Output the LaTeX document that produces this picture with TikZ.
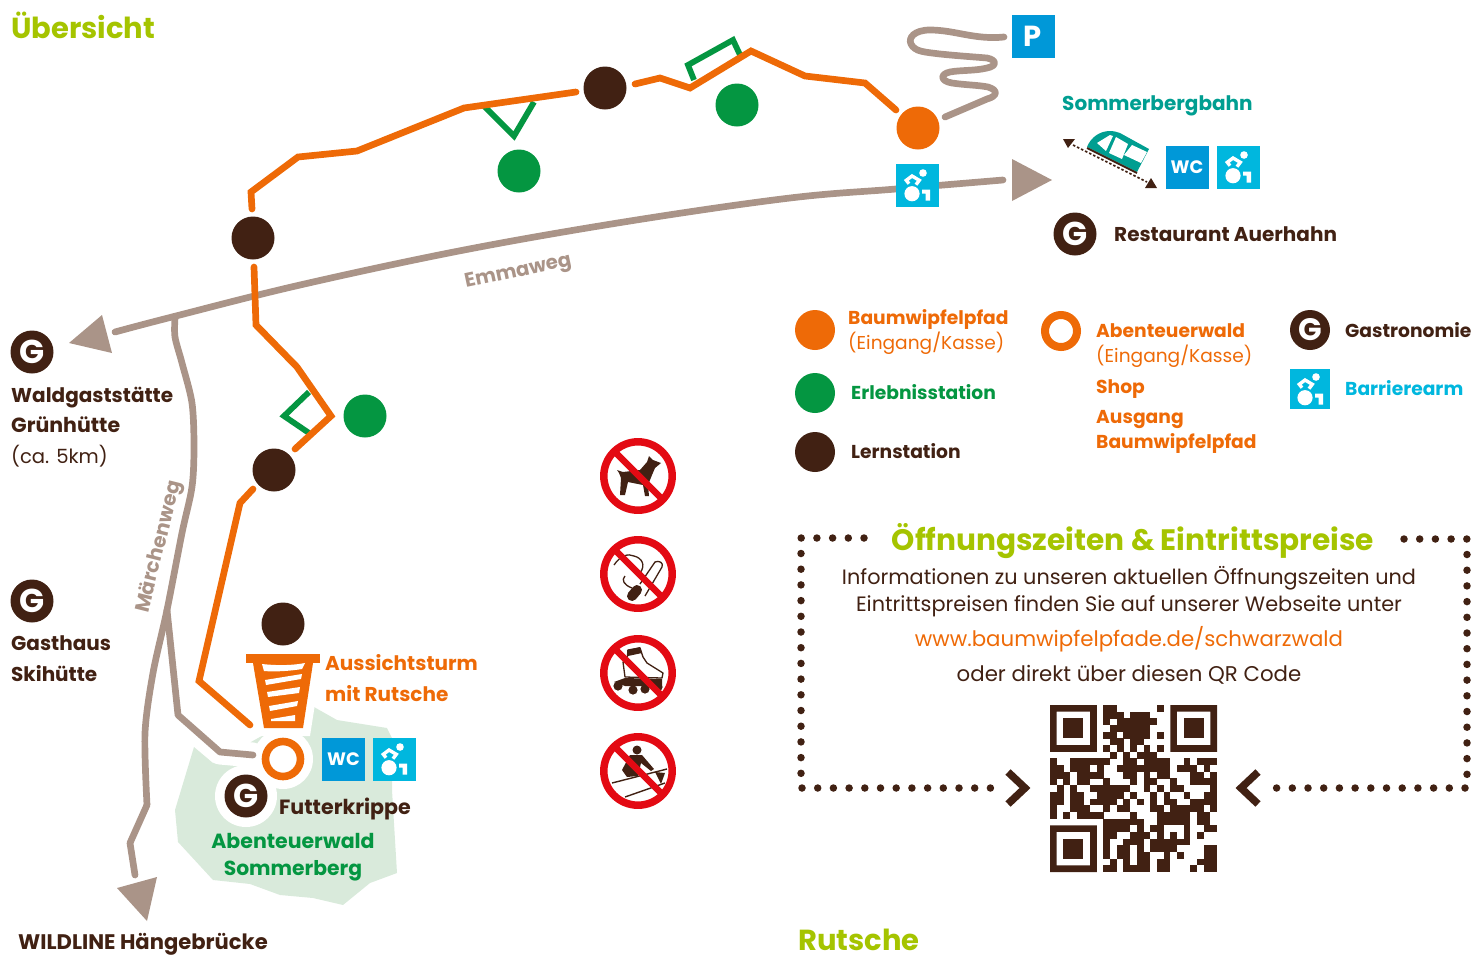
\documentclass[tikz,border=0pt]{standalone}
\usepackage{fontspec}
\setmainfont{Poppins}
\definecolor{org}{HTML}{EE6A07}
\definecolor{brn}{HTML}{412113}
\definecolor{grn}{HTML}{049641}
\definecolor{way}{HTML}{AA9488}
\definecolor{lime}{HTML}{A5C400}
\definecolor{teal2}{HTML}{009E91}
\definecolor{wcb}{HTML}{0098D8}
\definecolor{accb}{HTML}{00B7DE}
\definecolor{forest}{HTML}{D9EADB}
\definecolor{nored}{HTML}{E30A13}
\newcommand{\lbl}[1]{\fontsize{#1}{#1}\selectfont}
\tikzset{
  x=1pt,y=-1pt,
  stn/.style={circle,fill=#1,minimum size=43pt,inner sep=0pt},
  route/.style={draw=org,line width=6.7pt,line cap=round,line join=miter},
  wayline/.style={draw=way,line width=6.7pt,line cap=round,line join=round},
  brack/.style={draw=grn,line width=5.8pt,line join=miter},
  txt/.style={anchor=base west,inner sep=0pt,font=\bfseries\lbl{20}},
  leg/.style={anchor=base west,inner sep=0pt,font=\bfseries\lbl{18.7}},
  legr/.style={anchor=base west,inner sep=0pt,font=\lbl{18.6},text=org},
  body/.style={anchor=base,inner sep=0pt,font=\lbl{20.8},text=brn},
  gnode/.style={circle,fill=brn,minimum size=43pt,inner sep=0pt},
  sq/.style={minimum size=43pt,inner sep=0pt,fill=#1,font=\bfseries\lbl{18},text=white},
  dotl/.style={draw=brn,line width=7.5pt,line cap=round,dash pattern=on 0pt off 15.7pt},
}
\newcommand{\access}[1]{% wheelchair icon centred at #1
  \begin{scope}[shift={#1}]
    \fill[white] (6,-12) circle (3.8);
    \fill[white] (-5,8.7) circle (7.6);
    \draw[white,line width=3.4pt,line join=miter] (-8,-1.3) -- (-10.7,-4.7) -- (-5,-9) -- (2.3,-4.7) -- (-1,-0.3);
    \fill[white] (5,4.5) -- (13,4.5) -- (13,15.5) -- (8.6,15.5) -- (8.6,8.7) -- (5,8.7) -- cycle;
  \end{scope}}
\newcommand{\gmark}[2][33]{% G letter
  \node[font=\bfseries\lbl{#1},text=white,inner sep=0pt] at #2 {G};}
\newcommand{\nosign}[1]{\draw[nored,line width=7.5pt] #1 circle (34.2);
  \begin{scope}[shift={#1}]\draw[nored,line width=6.5pt] (-23,-24) -- (24,23);\end{scope}}
\begin{document}
\begin{tikzpicture}
\useasboundingbox (0,0) rectangle (1473,954);
% forest
\fill[forest] (314,707) -- (337,720) -- (387,728) -- (393,740) -- (392,790) -- (397,873) -- (370,883) -- (343,905) -- (313,898) -- (280,895) -- (250,884) -- (213,880) -- (178,842) -- (175,810) -- (194,747) -- (213,763) -- cycle;
\draw[white,line width=25pt,line cap=round,line join=round] (178,700) -- (178,715) -- (220,752) -- (253,755);
\fill[white] (283,759) circle (30);
\fill[white] (246,796) circle (31);
\fill[white] (240,640) -- (322,640) -- (320,672) -- (310,736) -- (258,736) -- (246,672) -- cycle;
% ways
\coordinate (emA) at (1003,180);
\coordinate (emB) at (115,332);
\draw[wayline] plot[smooth,tension=0.6] coordinates {(emA) (896,189) (790,198) (630,221) (464,250) (300,285) (172,317) (emB)};
\coordinate (mwA) at (175,318);
\draw[wayline,line cap=butt] plot[smooth,tension=0.5] coordinates {(mwA) (175,337) (182,363) (192,403) (194,447) (192,487) (182,533) (167,610) (153,673) (145,733) (147,805)};
\coordinate (mwEnd) at (135,875);
\draw[wayline] (147,805) -- (130,843) -- (mwEnd);
\coordinate (brEnd) at (253,755);
\draw[wayline] (167,610) -- (178,715) -- (220,752) -- (brEnd);
\draw[wayline] (1004,37) .. controls (975,40) and (955,30) .. (930,30) .. controls (914,30) and (908,38) .. (911,44) .. controls (915,52) and (925,52) .. (940,54) .. controls (960,56) and (975,57) .. (987,58) .. controls (997,60) and (997,66) .. (987,68) .. controls (975,71) and (960,70) .. (950,72) .. controls (940,74) and (940,81) .. (952,83) .. controls (965,85) and (978,85) .. (988,87) .. controls (998,90) and (998,96) .. (987,99) -- (945,117);
% arrowheads
\fill[way] (1012,159) -- (1052,180) -- (1012,201) -- cycle;
\fill[way] (69,343) -- (102,315) -- (112,353) -- cycle;
\fill[way] (147,921) -- (117,888) -- (157,877) -- cycle;
% brackets
\draw[brack] (484,106) -- (514,136) -- (534,102);
\draw[brack] (694,80) -- (688,65) -- (733,40) -- (741,57);
\draw[brack] (309,392) -- (284,416) -- (309,433);
% stations
\node[stn=brn] (s1) at (253,238) {};
\node[stn=brn] (s2) at (605,88) {};
\node[stn=brn] (s3) at (274,470) {};
\node[stn=brn] (s4) at (283,624) {};
\node[stn=grn] (g1) at (519,171) {};
\node[stn=grn] (g2) at (737,105) {};
\node[stn=grn] (g3) at (365,416) {};
\node[stn=org] (o1) at (918,128) {};
% routes
\coordinate (r1) at (250,725);\coordinate (r2) at (253,489);
\draw[route] (r1) -- (199,681) -- (240,503) -- (r2);
\coordinate (r3) at (295,449);\coordinate (r4) at (254,267);
\draw[route] (r3) -- (331,416) -- (297,367) -- (256,325) -- (r4);
\coordinate (r5) at (252,209);\coordinate (r6) at (576,92);
\draw[route] (r5) -- (251,192) -- (298,157) -- (357,151) -- (464,108) -- (r6);
\coordinate (r7) at (635,84);\coordinate (r8) at (896,110);
\draw[route] (r7) -- (660,78) -- (690,88) -- (751,51) -- (805,76) -- (865,83) -- (r8);
% tower
\fill[org] (246,654) rectangle (320,663);
\fill[org] (253,663) -- (313,663) -- (303,728) -- (264,728) -- cycle;
\fill[white] (262,664) .. controls (280,666) and (295,665) .. (305,663) -- (302,669) .. controls (290,671) and (275,672) .. (264,671) -- cycle;
\fill[white] (265,680) -- (302,674) -- (301,679) -- (266,685) -- cycle;
\fill[white] (267,692) -- (300,687) -- (299,693) -- (268,697) -- cycle;
\fill[white] (269,706) -- (298,701) -- (297,706) -- (270,711) -- cycle;
\fill[white] (271,719) -- (295,715) -- (295,721) -- (271,721) -- cycle;
% ring
\node[circle,draw=org,line width=7.6pt,fill=white,minimum size=35pt,inner sep=0pt] (ring) at (283,759) {};
% squares
\node[sq=wcb] (park) at (1033,36.5) {\lbl{29}P};
\node[sq=wcb] (wc1) at (1187,167) {WC};
\node[sq=accb] (ac1) at (1238,167) {};\access{(1238,167)}
\node[sq=accb] (ac2) at (917,185) {};\access{(917,185)}
\node[sq=wcb] (wc2) at (343.5,759) {WC};
\node[sq=accb] (ac3) at (394,759) {};\access{(394,759)}
\node[sq=accb,minimum width=40pt,minimum height=40pt] (ac4) at (1310,389) {};\access{(1310,389)}
% G nodes
\node[gnode] (gw) at (32,352) {};\gmark{(32,352)}
\node[gnode] (gs) at (32,601) {};\gmark{(32,601)}
\node[gnode] (gf) at (246,796) {};\gmark{(246,796)}
\node[gnode] (gr) at (1075,234) {};\gmark{(1075,234)}
\node[gnode,minimum size=40pt] (gl) at (1310,330) {};\gmark[31]{(1310,330)}
% funicular
\fill[teal2] (1087,147) .. controls (1091,137) and (1100,131) .. (1110,131) .. controls (1114,131) and (1117,132) .. (1120,133) -- (1149,149) -- (1137,172) -- cycle;
\fill[white] (1097,143) -- (1110,135) -- (1113,136) -- (1106,151) -- cycle;
\fill[white] (1116,137) -- (1128,144) -- (1122,159) -- (1109,153) -- cycle;
\fill[white] (1132,145) -- (1147,152) -- (1141,163) -- (1124,155) -- cycle;
\draw[brn,line width=1.8pt] (1087,148) -- (1137,173);
\coordinate (fa) at (1073,145);\coordinate (fb) at (1147,182);
\draw[brn,line width=1.6pt,dash pattern=on 2.5pt off 2pt] (fa) -- (fb);
\fill[brn] (1063,139) -- (1075,139) -- (1068,148) -- cycle;
\fill[brn] (1145,188) -- (1157,188) -- (1151,178) -- cycle;
% prohibition signs: dog
\fill[brn] (617,470) -- (623,472) -- (640,470) -- (647,462) -- (649,456) -- (653,460) -- (661,463) -- (655,468) -- (652,475) -- (648,485) -- (649,496) -- (645,496) -- (643,485) -- (628,482) -- (625,495) -- (620,495) -- (621,478) -- (619,473) -- cycle;
% cigarette
\draw[brn,line width=1.3pt] (614,565) .. controls (620,556) and (628,553) .. (634,556) .. controls (642,558) and (646,565) .. (640,573);
\draw[brn,line width=1.3pt] (625,576) .. controls (621,580) and (624,585) .. (632,588);
\draw[brn,line width=1.3pt,line join=round] (640,584) -- (655,562) .. controls (659,560) and (664,563) .. (662,567) -- (645,596);
\draw[brn,line width=10pt,line cap=round] (632,596) -- (637,590);
% skate
\draw[brn,line width=1.3pt,fill=white,line join=round] (623,662) -- (625,677) -- (662,678) -- (663,673) -- (647,663) -- (643,657) -- (640,648) -- (628,650) -- (627,660) -- cycle;
\fill[brn] (627,650) -- (640,647) -- (642,653) -- (628,656) -- cycle;
\fill[brn] (614,682) -- (625,678) -- (662,679) -- (662,686) -- (625,686) -- cycle;
\foreach \wx/\wy in {618/686,633/690,645/689,658/687}{\fill[brn] (\wx,\wy) circle (4.6);}
% sweeper
\fill[brn] (637,750) circle (4.5);
\fill[brn] (630,755) -- (642,755) -- (654,769) -- (651,771) -- (641,763) -- (638,776) -- (627,777) -- (622,770) -- cycle;
\draw[brn,line width=1.4pt] (612,783) -- (667,769);
\draw[brn,line width=1.4pt] (625,797) -- (665,783);
\fill[brn] (655,772) -- (665,773) -- (661,784) -- cycle;
\nosign{(638,476)}
\nosign{(638,574)}
\nosign{(638,673)}
\nosign{(638,771)}
% dotted frame
\coordinate (f1) at (864,538);\coordinate (f2) at (995,788);\coordinate (f3) at (1404,539);\coordinate (f4) at (1275,788);
\draw[dotl] (f1) -- (801,538) -- (801,788) -- (f2);
\draw[dotl] (f3) -- (1467,539) -- (1467,788) -- (f4);
\draw[brn,line width=7.5pt,line join=miter] (1008,772) -- (1025,788) -- (1008,804);
\draw[brn,line width=7.5pt,line join=miter] (1258,772) -- (1241,788) -- (1258,804);
% QR code
\begin{scope}[shift={(1050,705)},x=6.68pt,y=-6.68pt]
\foreach \r/\cs in {
0/{8,9,16},
1/{8,9,10,12,13,14},
2/{8,10,11,12,13,14,15},
3/{9,10,11,12,13,14},
4/{8,9,11,12,13,14,16},
5/{9,10,12,13},
6/{8,10,12,14,16},
7/{9,11,13,14,15},
8/{0,3,4,5,6,7,8,11,12,14,15,16,17,20,22,23,24},
9/{0,1,3,4,5,7,10,11,12,13,14,15,16,17,19,20,21,23},
10/{0,1,2,4,5,6,7,11,12,14,16,17,21,22,24},
11/{0,2,4,5,8,12,14,15,18,21,22,23,24},
12/{1,3,6,7,8,9,10,11,14,16,18,19,24},
13/{0,1,3,4,7,8,9,10,12,15,17,20,23,24},
14/{0,1,3,4,6,7,8,9,11,13,15,17,18,21,22,23,24},
15/{0,3,4,5,8,10,11,15,16,18,19,20,21,22,24},
16/{0,2,4,5,6,7,12,16,17,18,19,20,22,23},
17/{8,9,10,11,12,13,16,17,18,19,20,22,23},
18/{8,9,10,11,13,15,16,20,23,24},
19/{8,9,12,13,14,16,18,20,22},
20/{8,11,12,13,15,16,17,18,19,20},
21/{8,10,11,13,15,16,17,18,23,24},
22/{8,10,11,13,14,17,19,23,24},
23/{9,11,13,14,16,17,22,23,24},
24/{8,9,11,12,13,14,16,17,21,23,24}}{
  \foreach \c in \cs {\fill[brn] (\c,\r) rectangle (\c+1.02,\r+1.02);}
}
\foreach \ox/\oy in {0/0,18/0,0/18}{
  \fill[brn,even odd rule] (\ox,\oy) rectangle (\ox+7,\oy+7) (\ox+1,\oy+1) rectangle (\ox+6,\oy+6);
  \fill[brn] (\ox+2,\oy+2) rectangle (\ox+5,\oy+5);
}
\end{scope}
% texts
\node[txt,text=lime,font=\bfseries\lbl{29}] (t1) at (11,38) {Übersicht};
\node[txt,text=lime,font=\bfseries\lbl{29}] (t2) at (798,950) {Rutsche};
\node[txt,text=teal2] (t3) at (1062,110) {Sommerbergbahn};
\node[txt,text=brn] (t4) at (1114,241) {Restaurant Auerhahn};
\node[txt,text=brn] (t5) at (11,402) {Waldgaststätte};
\node[txt,text=brn,font=\bfseries\lbl{20.5}] (t6) at (11,432) {Grünhütte};
\node[anchor=base west,inner sep=0pt,font=\lbl{19.6},text=brn] (t7) at (11,463) {(ca. 5km)};
\node[txt,text=brn] (t8) at (11,650) {Gasthaus};
\node[txt,text=brn] (t9) at (11,681) {Skihütte};
\node[txt,text=brn,font=\bfseries\lbl{21.1}] (t10) at (18,949) {WILDLINE Hängebrücke};
\node[txt,text=org] (t11) at (325,670) {Aussichtsturm};
\node[txt,text=org] (t12) at (325,701) {mit Rutsche};
\node[txt,text=brn,font=\bfseries\lbl{20.6}] (t13) at (279,814) {Futterkrippe};
\node[txt,text=grn,anchor=base,font=\bfseries\lbl{20.5}] (t14) at (293,848) {Abenteuerwald};
\node[txt,text=grn,anchor=base,font=\bfseries\lbl{20.3}] (t15) at (293,875) {Sommerberg};
\node[txt,text=way,font=\bfseries\lbl{19.7},rotate=12] (t16) at (466,288) {Emmaweg};
\node[txt,text=way,rotate=76] (t17) at (148,614) {Märchenweg};
% legend
\node[stn=org,minimum size=40pt] (l1) at (815,330) {};
\node[stn=grn,minimum size=40pt] (l2) at (815,393) {};
\node[stn=brn,minimum size=40pt] (l3) at (815,452) {};
\node[circle,draw=org,line width=8pt,minimum size=32pt,inner sep=0pt] (l4) at (1061,331) {};
\node[leg,text=org] (a1) at (848,324) {Baumwipfelpfad};
\node[legr] (a2) at (848,349) {(Eingang/Kasse)};
\node[leg,text=grn] (a3) at (851,399) {Erlebnisstation};
\node[leg,text=brn] (a4) at (851,458) {Lernstation};
\node[leg,text=org] (a5) at (1096,337) {Abenteuerwald};
\node[legr] (a6) at (1096,362) {(Eingang/Kasse)};
\node[leg,text=org] (a7) at (1096,393) {Shop};
\node[leg,text=org] (a8) at (1096,423) {Ausgang};
\node[leg,text=org] (a9) at (1096,448) {Baumwipfelpfad};
\node[leg,text=brn] (a10) at (1345,337) {Gastronomie};
\node[leg,text=accb] (a11) at (1345,395) {Barrierearm};
% info
\node[anchor=base,inner sep=0pt,font=\bfseries\lbl{29.6},text=lime] (i1) at (1133,550) {Öffnungszeiten \& Eintrittspreise};
\node[body] (i2) at (1129,584) {Informationen zu unseren aktuellen Öffnungszeiten und};
\node[body] (i3) at (1129,611) {Eintrittspreisen finden Sie auf unserer Webseite unter};
\node[body,text=org,font=\lbl{21.3}] (i4) at (1129,646) {www.baumwipfelpfade.de/schwarzwald};
\node[body,font=\lbl{21.3}] (i5) at (1129,681) {oder direkt über diesen QR Code};
\end{tikzpicture}
\end{document}
